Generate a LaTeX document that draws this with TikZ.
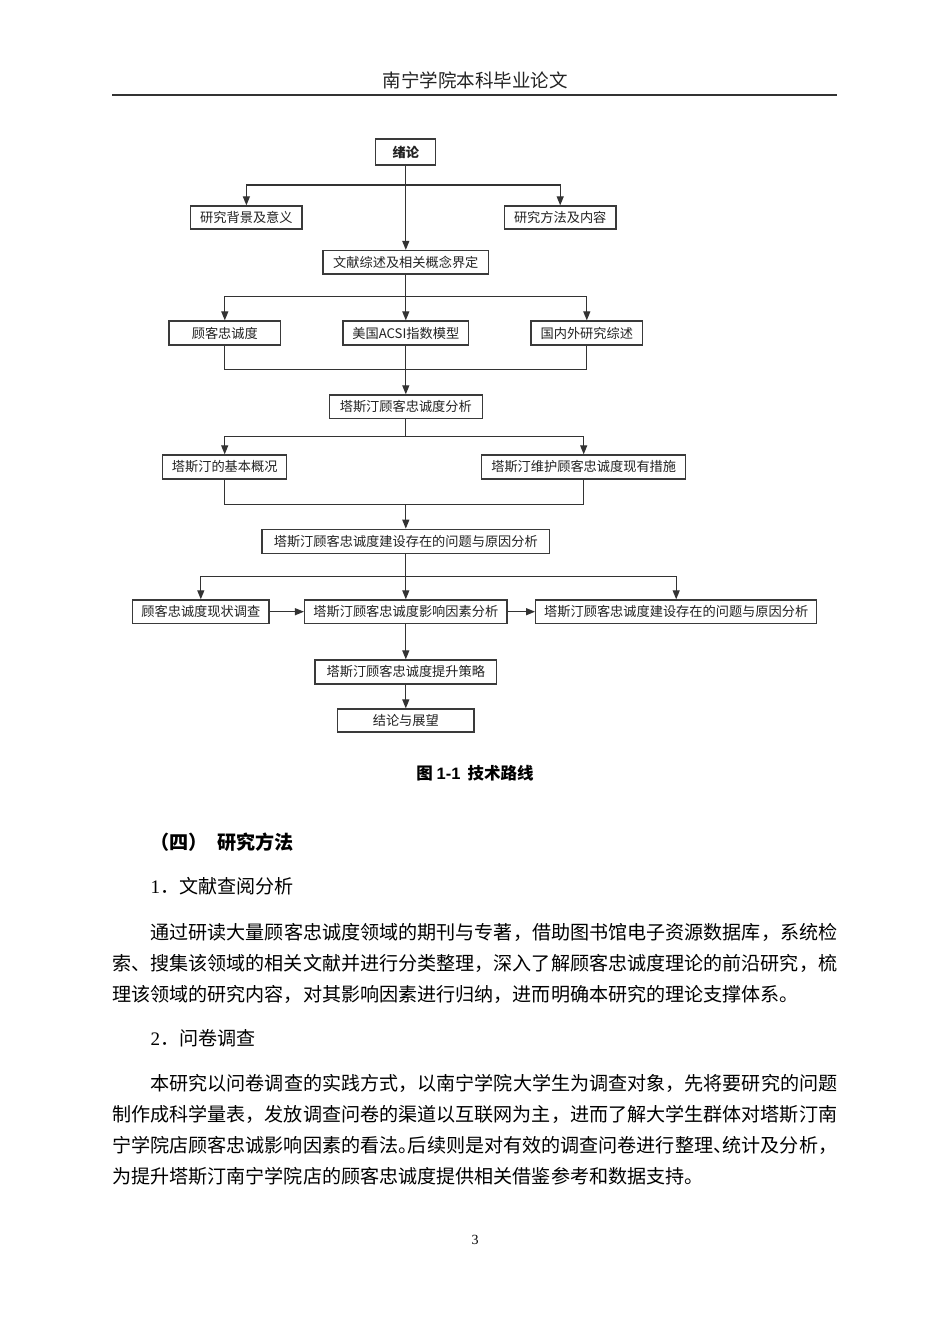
\documentclass[tikz,border=0pt]{standalone}
\usepackage{fontspec}
\setmainfont{Liberation Serif}
\newfontfamily\cjk{Noto Sans CJK SC}
\newfontfamily\arialf{Liberation Sans}
\usetikzlibrary{arrows.meta}
\definecolor{boxc}{HTML}{3A3A3A}
\definecolor{linec}{HTML}{333333}
\definecolor{txtc}{HTML}{222222}
\newcommand{\halfpunct}[1]{\makebox[9.54pt][l]{#1}}
\tikzset{
  fbox/.style={draw=boxc, line width=1.3pt, fill=white, minimum height=23.5pt, inner sep=0pt,
    text=txtc, font=\cjk\fontsize{13.2}{14}\selectfont},
  conn/.style={draw=linec, line width=1.2pt},
  arr/.style={-{Triangle[length=9pt,width=7pt]}},
  bodytext/.style={anchor=west, inner sep=0pt, text=black, font=\cjk\fontsize{19.08}{20}\selectfont},
}
\begin{document}
\begin{tikzpicture}[x=1pt,y=-1pt]
\useasboundingbox (0,0) rectangle (950,1344);
\fill[white] (0,0) rectangle (950,1344);

% header
\node[font=\cjk\fontsize{18.5}{20}\selectfont, text=txtc, inner sep=0pt] (hdr) at (475,80) {南宁学院本科毕业论文};
\coordinate (hl) at (112,95);
\coordinate (hr) at (837,95);
\draw[line width=1.4pt, linec] (hl) -- (hr);

% flowchart nodes
\node[fbox, minimum width=60pt, minimum height=26pt, font=\cjk\bfseries\fontsize{13.2}{14}\selectfont] (lun) at (405.8,152) {绪论};
\node[fbox, minimum width=111.3pt, minimum height=23pt] (bg) at (246.4,217.5) {研究背景及意义};
\node[fbox, minimum width=111.7pt, minimum height=23pt] (ff) at (560.2,217.5) {研究方法及内容};
\node[fbox, minimum width=165.7pt] (wx) at (405.8,262.3) {文献综述及相关概念界定};
\node[fbox, minimum width=111.7pt, minimum height=24pt] (gk) at (224.8,333) {顾客忠诚度};
\node[fbox, minimum width=125.7pt, minimum height=24pt] (acsi) at (405.8,333) {美国ACSI指数模型};
\node[fbox, minimum width=111.7pt, minimum height=24pt] (gnw) at (586.8,333) {国内外研究综述};
\node[fbox, minimum width=153.3pt] (fx) at (405.8,406.7) {塔斯汀顾客忠诚度分析};
\node[fbox, minimum width=124pt, minimum height=24pt] (jb) at (224.7,467) {塔斯汀的基本概况};
\node[fbox, minimum width=204pt, minimum height=24pt] (wh) at (583.7,467) {塔斯汀维护顾客忠诚度现有措施};
\node[fbox, minimum width=287.6pt, minimum height=24pt] (js) at (405.8,541.3) {塔斯汀顾客忠诚度建设存在的问题与原因分析};
\node[fbox, minimum width=136.3pt] (xz) at (200.8,611.7) {顾客忠诚度现状调查};
\node[fbox, minimum width=202.4pt] (yx) at (405.8,611.7) {塔斯汀顾客忠诚度影响因素分析};
\node[fbox, minimum width=281pt] (js2) at (676.2,611.7) {塔斯汀顾客忠诚度建设存在的问题与原因分析};
\node[fbox, minimum width=181.7pt, minimum height=24pt] (ts) at (405.8,672) {塔斯汀顾客忠诚度提升策略};
\node[fbox, minimum width=136.3pt, minimum height=23pt] (jl) at (405.8,720.5) {结论与展望};

% junctions
\coordinate (j1) at (405.8,185);
\coordinate (j2) at (405.8,296.7);
\coordinate (m1) at (405.8,369.3);
\coordinate (j3) at (405.8,436.7);
\coordinate (m2) at (405.8,504.3);
\coordinate (j4) at (405.8,576.7);

% connectors
\draw[conn,arr] (lun.south) -- (wx.north);
\draw[conn,arr] (j1) -| (bg.north);
\draw[conn,arr] (j1) -| (ff.north);
\draw[conn,arr] (wx.south) -- (acsi.north);
\draw[conn,arr] (j2) -| (gk.north);
\draw[conn,arr] (j2) -| (gnw.north);
\draw[conn] (gk.south) |- (m1) -| (gnw.south);
\draw[conn,arr] (acsi.south) -- (fx.north);
\draw[conn] (fx.south) -- (j3);
\draw[conn,arr] (j3) -| (jb.north);
\draw[conn,arr] (j3) -| (wh.north);
\draw[conn] (jb.south) |- (m2) -| (wh.south);
\draw[conn,arr] (m2) -- (js.north);
\draw[conn,arr] (js.south) -- (yx.north);
\draw[conn,arr] (j4) -| (xz.north);
\draw[conn,arr] (j4) -| (js2.north);
\draw[conn,arr] (xz.east) -- (yx.west);
\draw[conn,arr] (yx.east) -- (js2.west);
\draw[conn,arr] (yx.south) -- (ts.north);
\draw[conn,arr] (ts.south) -- (jl.north);

% caption
\node[inner sep=0pt, font=\cjk\bfseries\fontsize{16.5}{18}\selectfont] (cap) at (475,773) {图 {\arialf\bfseries 1-1}\hspace{7pt}技术路线};

% body text
\node[bodytext, font=\cjk\bfseries\fontsize{19.08}{20}\selectfont] (s4) at (150.3,841.7) {（四）\hspace{10pt}研究方法};
\node[bodytext] (h1) at (150.3,886.5) {{\rmfamily 1}．文献查阅分析};
\node[bodytext] (p1a) at (150.3,932) {通过研读大量顾客忠诚度领域的期刊与专著，借助图书馆电子资源数据库，系统检};
\node[bodytext] (p1b) at (112,963) {索、搜集该领域的相关文献并进行分类整理，深入了解顾客忠诚度理论的前沿研究，梳};
\node[bodytext] (p1c) at (112,994) {理该领域的研究内容，对其影响因素进行归纳，进而明确本研究的理论支撑体系。};
\node[bodytext] (h2) at (150.3,1038) {{\rmfamily 2}．问卷调查};
\node[bodytext] (p2a) at (150.3,1083) {本研究以问卷调查的实践方式，以南宁学院大学生为调查对象，先将要研究的问题};
\node[bodytext] (p2b) at (112,1114) {制作成科学量表，发放调查问卷的渠道以互联网为主，进而了解大学生群体对塔斯汀南};
\node[bodytext] (p2c) at (112,1145) {宁学院店顾客忠诚影响因素的看法\halfpunct{。}后续则是对有效的调查问卷进行整理\halfpunct{、}统计及分析，};
\node[bodytext] (p2d) at (112,1176) {为提升塔斯汀南宁学院店的顾客忠诚度提供相关借鉴参考和数据支持。};

% page number
\node[inner sep=0pt, font=\fontsize{14}{16}\selectfont] (pg) at (475,1240) {3};
\end{tikzpicture}
\end{document}
